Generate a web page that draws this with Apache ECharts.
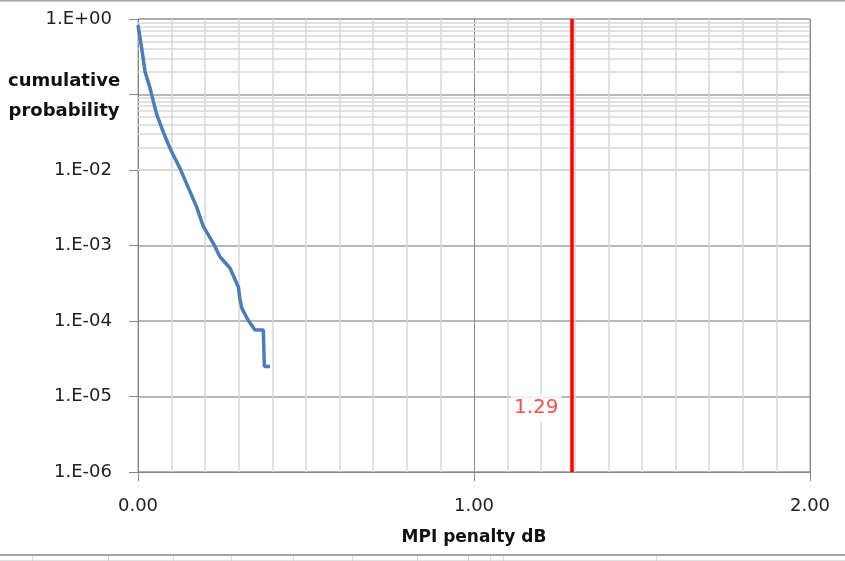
<!DOCTYPE html>
<html>
<head>
<meta charset="utf-8">
<script src="https://cdn.jsdelivr.net/npm/echarts@6/dist/echarts.min.js"></script>
<style>
html,body{margin:0;padding:0;background:#fff;}
#chart{width:845px;height:561px;}
</style>
</head>
<body>
<div id="chart"></div>
<script>
// ---- data ----
var penaltyDb = [0.000, 0.011, 0.021, 0.036, 0.046, 0.056, 0.075, 0.095, 0.105, 0.125, 0.150, 0.175, 0.194, 0.224, 0.244, 0.274, 0.299, 0.303, 0.309, 0.328, 0.348, 0.373, 0.376, 0.393];
var cumProb   = [0.83, 0.41, 0.20, 0.121, 0.080, 0.054, 0.032, 0.0195, 0.0158, 0.0105, 0.0058, 0.0032, 0.0018, 0.00107, 0.00071, 0.00050, 0.00028, 0.00020, 0.000148, 0.000102, 0.000076, 0.000076, 0.000025, 0.000025];
var limitX = 1.29;
var limitLabel = '1.29';
var limitLabelP = 7e-6;        // vertical anchor of the "1.29" box
var xTicks = [0, 1, 2];
var yMinP = 1e-6, yMaxP = 1;
var hiddenYLabelExp = [-1];    // covered by the axis title in the reference
var xTitle = 'MPI penalty dB';
var yTitle = 'cumulative\nprobability';

// minor log grid values 2..9 × each decade
var minorLogVals = [];
for (var e = -6; e < 0; e++) {
  for (var m = 2; m <= 9; m++) minorLogVals.push(m * Math.pow(10, e));
}

var FONT = 'DejaVu Sans';
var lineData = penaltyDb.map(function (x, i) { return [x, cumProb[i]]; });

var chart = echarts.init(document.getElementById('chart'), null, {renderer: 'canvas'});
chart.setOption({
  backgroundColor: '#ffffff',
  animation: false,
  grid: {left: 138, right: 35, top: 19, bottom: 89, show: true, borderColor: '#9a9a9a', borderWidth: 1, backgroundColor: 'transparent'},
  xAxis: {
    type: 'value', min: xTicks[0], max: xTicks[xTicks.length - 1], interval: 1,
    axisLine: {show: true, lineStyle: {color: '#868686', width: 1}},
    axisTick: {show: true, length: 9, lineStyle: {color: '#868686'}},
    axisLabel: {margin: 25, color: '#222', fontFamily: FONT, fontSize: 18,
      formatter: function (v) { return v.toFixed(2); }},
    splitLine: {show: true, lineStyle: {color: '#8a8a8a', width: 1}},
    minorTick: {show: false, splitNumber: 10},
    minorSplitLine: {show: true, lineStyle: {color: '#d9d9d9', width: 1.5}},
    name: xTitle, nameLocation: 'middle', nameGap: 57,
    nameTextStyle: {fontFamily: FONT, fontWeight: 'bold', fontSize: 17, color: '#111'}
  },
  yAxis: {
    type: 'log', logBase: 10, min: yMinP, max: yMaxP, interval: 1,
    axisLine: {show: true, lineStyle: {color: '#868686', width: 1}},
    axisTick: {show: true, length: 9, lineStyle: {color: '#868686'}},
    axisLabel: {margin: 26, color: '#222', fontFamily: FONT, fontSize: 18,
      showMinLabel: true, showMaxLabel: true,
      formatter: function (v) {
        var ex = Math.round(Math.log10(v));
        if (hiddenYLabelExp.indexOf(ex) >= 0) return '';
        return '1.E' + (ex >= 0 ? '+' : '-') + String(Math.abs(ex)).padStart(2, '0');
      }},
    splitLine: {show: true, lineStyle: {color: '#a0a0a0', width: 1.5}}
  },
  graphic: [
    {type: 'text', left: 8, top: 66, z: 10,
      style: {text: yTitle, fontFamily: FONT, fontWeight: 'bold', fontSize: 18, fill: '#111', textAlign: 'center', lineHeight: 30, x: 60}},
    {type: 'line', shape: {x1: 0, y1: 0.5, x2: 845, y2: 0.5}, style: {stroke: '#a6a6a6', lineWidth: 2}},
    {type: 'line', shape: {x1: 0, y1: 555, x2: 845, y2: 555}, style: {stroke: '#a6a6a6', lineWidth: 2}},
    {type: 'line', shape: {x1: 0, y1: 560.5, x2: 845, y2: 560.5}, style: {stroke: '#e0e0e0', lineWidth: 1}},
    {type: 'group', children: [32, 108, 173, 231, 293, 352, 417, 468, 490, 503, 656].map(function (x) {
      return {type: 'line', shape: {x1: x + 0.5, y1: 556, x2: x + 0.5, y2: 561}, style: {stroke: '#d6d6d6', lineWidth: 1}};
    })}
  ],
  series: [
    {
      type: 'line', data: [], z: 1, silent: true,
      markLine: {silent: true, z: 1, symbol: 'none', animation: false, label: {show: false},
        lineStyle: {color: '#d9d9d9', width: 1.5, type: 'solid'},
        data: minorLogVals.map(function (v) { return {yAxis: v}; })}
    },
    {
      type: 'line', data: lineData, z: 3, showSymbol: false, symbol: 'none',
      lineStyle: {color: '#4a7ebb', width: 3.5}, itemStyle: {color: '#4a7ebb'},
      markLine: {silent: true, z: 4, symbol: 'none', animation: false, label: {show: false},
        lineStyle: {color: '#ff0000', width: 3.5, type: 'solid'},
        data: [{xAxis: limitX}]}
    },
    {
      type: 'scatter', data: [[limitX, limitLabelP]], z: 5, symbolSize: 0, silent: true,
      label: {show: true, position: 'left', distance: 10, formatter: limitLabel,
        color: '#ff2020', fontFamily: FONT, fontSize: 20, backgroundColor: '#ffffff', padding: [4, 3, 4, 3]}
    }
  ]
});
</script>
</body>
</html>
